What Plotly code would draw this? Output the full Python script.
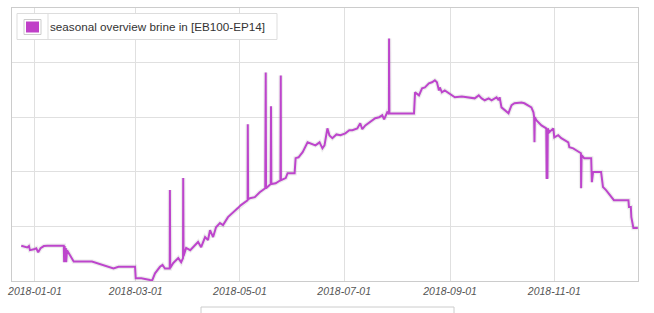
import plotly.graph_objects as go
import pandas as pd

# ---- data ----
series_name = "seasonal overview brine in [EB100-EP14]"
start_date = "2018-01-01"

day_offsets = [
    -8.0, -4.5, -3.5, -2.9, -0.6, 0.8, 1.9, 3.3, 5.2, 7.2,
    16.9, 17.1, 17.4, 17.8, 18.1, 18.3, 18.8, 22.7, 33.4, 46.0,
    48.9, 58.6, 59.0, 62.3, 67.4, 68.7, 70.3, 71.6, 73.2, 74.7,
    76.1, 78.9, 79.0, 79.2, 81.0, 83.9, 85.6, 86.7, 86.8, 87.0,
    88.5, 90.9, 93.8, 95.5, 97.3, 99.6, 101.3, 102.5, 104.3, 106.0,
    108.3, 110.1, 113.0, 115.9, 118.8, 120.6, 122.9, 124.5, 124.6, 124.8,
    125.8, 128.7, 131.6, 134.8, 135.1, 135.3, 138.0, 138.2, 138.4, 140.9,
    143.7, 143.9, 144.0, 146.8, 147.9, 152.0, 152.6, 154.3, 156.7, 159.6,
    161.3, 164.2, 166.6, 168.3, 169.5, 171.2, 172.4, 174.1, 176.5, 178.8,
    181.7, 184.0, 185.8, 188.7, 190.4, 191.6, 193.4, 195.7, 197.4, 199.2,
    201.5, 203.3, 204.4, 206.2, 207.2, 207.3, 207.5, 221.9, 222.2, 222.5,
    224.8, 226.6, 228.3, 230.6, 232.4, 234.1, 235.3, 236.5, 237.0, 238.2,
    239.9, 242.3, 244.0, 245.8, 249.9, 253.9, 257.4, 259.8, 261.5, 263.3,
    265.6, 267.3, 270.2, 271.4, 272.0, 273.1, 274.9, 277.2, 277.8, 279.0,
    280.7, 284.8, 286.5, 288.8, 290.6, 291.8, 292.2, 292.4, 292.6, 293.5,
    295.3, 296.5, 299.3, 299.5, 300.0, 300.2, 301.1, 302.2, 303.4, 304.0,
    306.3, 308.1, 309.8, 312.2, 312.8, 315.1, 316.8, 318.6, 319.6, 319.7,
    320.0, 321.5, 325.6, 326.0, 326.7, 331.4, 332.5, 334.3, 337.2, 338.9,
    347.4, 347.7, 348.8, 349.1, 350.3, 352.9,
]

brine_in = [
    1.29, 1.23, 1.28, 1.13, 1.16, 1.20, 1.05, 1.20, 1.28, 1.29,
    1.29, 0.69, 1.28, 0.77, 1.21, 0.69, 1.13, 0.71, 0.71, 0.46,
    0.52, 0.52, 0.10, 0.10, 0.04, 0.03, 0.28, 0.40, 0.52, 0.59,
    0.46, 0.46, 3.33, 0.48, 0.66, 0.84, 0.69, 0.84, 3.77, 0.91,
    1.21, 1.13, 1.32, 1.43, 1.24, 1.61, 1.50, 1.86, 1.61, 1.97,
    2.12, 2.05, 2.34, 2.49, 2.67, 2.78, 2.89, 2.96, 5.74, 3.00,
    3.03, 3.07, 3.25, 3.40, 7.64, 3.40, 3.55, 6.40, 3.55, 3.58,
    3.69, 7.53, 3.69, 3.77, 3.95, 3.95, 4.50, 4.53, 4.72, 5.08,
    5.05, 4.97, 5.08, 4.86, 4.97, 5.59, 5.33, 5.23, 5.37, 5.34,
    5.41, 5.52, 5.52, 5.59, 5.78, 5.56, 5.70, 5.81, 5.89, 5.96,
    6.00, 6.07, 5.92, 6.18, 6.11, 8.88, 6.14, 6.14, 6.87, 6.91,
    6.80, 7.06, 7.09, 7.24, 7.28, 7.35, 7.28, 6.98, 7.09, 6.91,
    6.98, 6.87, 6.80, 6.73, 6.76, 6.73, 6.69, 6.80, 6.69, 6.62,
    6.69, 6.62, 6.73, 6.62, 6.73, 6.36, 6.25, 6.14, 6.25, 6.44,
    6.51, 6.54, 6.51, 6.44, 6.36, 6.18, 6.00, 5.08, 6.00, 5.89,
    5.78, 5.70, 5.59, 3.77, 3.77, 5.59, 5.45, 5.52, 5.59, 5.26,
    5.34, 5.23, 5.16, 5.08, 4.90, 4.86, 4.79, 4.72, 4.68, 3.40,
    4.61, 4.50, 4.50, 3.62, 3.99, 3.99, 3.44, 3.33, 3.07, 2.96,
    2.96, 2.71, 2.71, 2.34, 1.94, 1.94,
]

tick_dates = ["2018-01-01", "2018-03-01", "2018-05-01",
              "2018-07-01", "2018-09-01", "2018-11-01"]
tick_labels = ["2018-01-01", "2018-03-01", "2018-05-01",
               "2018-07-01", "2018-09-01", "2018-11-01"]

x_range = ["2017-12-18 14:00", "2018-12-20 00:00"]
y_range = [0, 10]

# ---- styles ----
LINE_COLOR = "#bd45cc"
GRID = "#e0e0e0"
FRAME = "#cccccc"

dates = pd.Timestamp(start_date) + pd.to_timedelta(day_offsets, unit="D")

fig = go.Figure()
# soft shadow under the line
fig.add_trace(go.Scatter(
    x=dates, y=brine_in, mode="lines",
    line=dict(color="rgba(0,0,0,0.07)", width=4.5),
    hoverinfo="skip", showlegend=False,
))
fig.add_trace(go.Scatter(
    x=dates, y=brine_in, mode="lines", name=series_name,
    line=dict(color=LINE_COLOR, width=2),
    showlegend=False,
))

fig.update_layout(
    width=654, height=313,
    margin=dict(l=8, r=16, t=7, b=32),
    paper_bgcolor="white", plot_bgcolor="white",
    showlegend=False,
    xaxis=dict(
        type="date", range=x_range,
        tickvals=tick_dates, ticktext=tick_labels,
        showgrid=True, gridcolor=GRID, gridwidth=1,
        showline=True, linecolor=FRAME, linewidth=1, mirror=True,
        ticks="", zeroline=False,
        tickfont=dict(family="Liberation Sans, Arial, sans-serif",
                      size=10.5, color="#555555", style="italic"),
    ),
    yaxis=dict(
        range=y_range, dtick=2, showticklabels=False,
        showgrid=True, gridcolor=GRID, gridwidth=1,
        showline=True, linecolor=FRAME, linewidth=1, mirror=True,
        ticks="", zeroline=False,
    ),
)

# ---- legend box (drawn as layout decoration, anchored to plot top-left) ----
def px_rect(x0, x1, y0, y1, **kw):
    return dict(type="rect", xref="paper", yref="paper",
                xsizemode="pixel", ysizemode="pixel",
                xanchor=0, yanchor=1,
                x0=x0, x1=x1, y0=y0, y1=y1, layer="above", **kw)

shapes = [
    px_rect(5, 265, -5.5, -31.5, line=dict(color="#dddddd", width=1), fillcolor="white"),
    px_rect(12, 29, -11.5, -26.5, line=dict(color="#cccccc", width=1), fillcolor="white"),
    px_rect(14, 27, -13.5, -24.5, line=dict(width=0), fillcolor="#c040c8"),
    dict(type="line", xref="paper", yref="paper", xsizemode="pixel", ysizemode="pixel",
         xanchor=0, yanchor=1, x0=36, x1=36, y0=-5.5, y1=-31.5,
         line=dict(color="#dddddd", width=1), layer="above"),
    # partial frame of a panel below the chart
    dict(type="rect", xref="paper", yref="paper", xsizemode="pixel", ysizemode="pixel",
         xanchor=0, yanchor=0, x0=189, x1=442, y0=-26, y1=-45,
         line=dict(color="#cccccc", width=1), fillcolor="rgba(0,0,0,0)", layer="above"),
]
fig.update_layout(shapes=shapes)

fig.add_annotation(
    text=series_name, xref="paper", yref="paper", x=0, y=1,
    xshift=36, yshift=-18.5, xanchor="left", yanchor="middle",
    showarrow=False,
    font=dict(family="Liberation Sans, Arial, sans-serif", size=11.7, color="#333333"),
)

fig.write_html("out.html")
